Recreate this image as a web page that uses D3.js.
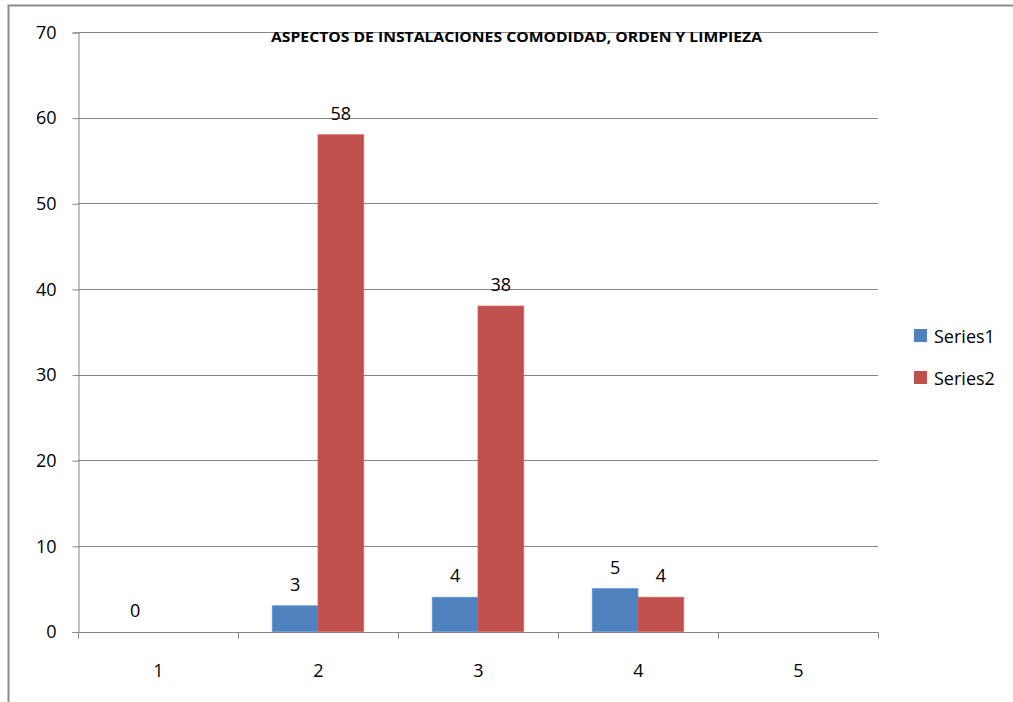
<!DOCTYPE html>
<html>
<head>
<meta charset="utf-8">
<script src="https://cdn.jsdelivr.net/npm/d3@7"></script>
<style>
  html, body { margin: 0; padding: 0; background: #fff; }
  svg { display: block; }
</style>
</head>
<body>
<svg id="chart" width="1013" height="702"></svg>
<script>
// Chart data
const categories = ["1", "2", "3", "4", "5"];
const seriesNames = ["Series1", "Series2"];
const series1 = [0, 3, 4, 5, null];
const series2 = [null, 58, 38, 4, null];
const yTicks = [0, 10, 20, 30, 40, 50, 60, 70];
const titleText = "ASPECTOS DE INSTALACIONES COMODIDAD, ORDEN Y LIMPIEZA";
const colors = ["#4F81BD", "#C0504D"];

const FONT = "'Open Sans', Lato, sans-serif";
const svg = d3.select("#chart");

// Outer chart frame (runs off the right/bottom edge)
svg.append("rect")
  .attr("x", 8.5).attr("y", 5.5)
  .attr("width", 1020).attr("height", 720)
  .attr("fill", "#fff")
  .attr("stroke", "#8c8c8c").attr("stroke-width", 2);

const plot = { left: 78, right: 878, top: 32, bottom: 631.5 };

const x = d3.scaleBand().domain(categories).range([plot.left, plot.right]).paddingInner(0).paddingOuter(0);
const y = d3.scaleLinear().domain([0, 70]).range([plot.bottom, plot.top]);

// Excel-style grouping: gap width 150%
const groupW = x.bandwidth() * 2 / 3.5;
const x1 = d3.scaleBand().domain(seriesNames).range([0, groupW]);

const g = svg.append("g");

// Horizontal gridlines
g.append("g").selectAll("line").data(yTicks.filter(t => t > 0)).join("line")
  .attr("x1", plot.left).attr("x2", plot.right)
  .attr("y1", d => Math.round(y(d)) + 0.5).attr("y2", d => Math.round(y(d)) + 0.5)
  .attr("stroke", "#868686").attr("stroke-width", 1);

// Y axis
const yAxis = d3.axisLeft(y).tickValues(yTicks).tickSize(6).tickPadding(16);
const yG = g.append("g").attr("transform", `translate(${plot.left + 0.5},0.5)`).call(yAxis);
yG.select(".domain").attr("stroke", "#868686");
yG.selectAll(".tick line").attr("stroke", "#868686");
yG.selectAll(".tick text").attr("font-family", FONT).attr("font-size", 18).attr("fill", "#000");

// X axis
const xEdges = categories.map(c => x(c)).concat([plot.right]);
const xAxisG = g.append("g").attr("transform", `translate(0.5,${Math.round(plot.bottom) + 0.5})`);
xAxisG.append("line").attr("x1", plot.left).attr("x2", plot.right).attr("stroke", "#868686");
xAxisG.selectAll(".tk").data(xEdges).join("line").attr("class", "tk")
  .attr("x1", d => d).attr("x2", d => d).attr("y1", 0).attr("y2", 6)
  .attr("stroke", "#868686");
xAxisG.selectAll(".lbl").data(categories).join("text").attr("class", "lbl")
  .attr("x", d => x(d) + x.bandwidth() / 2).attr("y", 44)
  .attr("text-anchor", "middle")
  .attr("font-family", FONT).attr("font-size", 18).attr("fill", "#000")
  .text(d => d);

// Bars
const allSeries = [series1, series2];
const barData = [];
allSeries.forEach((vals, si) => {
  vals.forEach((v, ci) => {
    if (v !== null) barData.push({ s: seriesNames[si], si, cat: categories[ci], v });
  });
});
const offset = (x.bandwidth() - groupW) / 2;

g.append("g").selectAll("rect").data(barData.filter(d => d.v > 0)).join("rect")
  .attr("x", d => x(d.cat) + offset + x1(d.s))
  .attr("width", x1.bandwidth())
  .attr("y", d => y(d.v))
  .attr("height", d => y(0) - y(d.v))
  .attr("fill", d => colors[d.si])
  .attr("stroke", d => d3.color(colors[d.si]).brighter(0.4))
  .attr("stroke-width", 0.8);

// Value labels
g.append("g").selectAll("text").data(barData).join("text")
  .attr("x", d => x(d.cat) + offset + x1(d.s) + x1.bandwidth() / 2)
  .attr("y", d => y(d.v) - 15)
  .attr("text-anchor", "middle")
  .attr("font-family", FONT).attr("font-size", 18).attr("fill", "#000")
  .text(d => d.v);

// Title
svg.append("text")
  .attr("x", 516.5).attr("y", 42)
  .attr("text-anchor", "middle")
  .attr("font-family", FONT).attr("font-weight", "bold").attr("font-size", 13.5)
  .attr("textLength", 491).attr("lengthAdjust", "spacingAndGlyphs")
  .attr("fill", "#000")
  .text(titleText);

// Legend
const legend = svg.append("g").attr("transform", "translate(914,329)");
seriesNames.forEach((name, i) => {
  const row = legend.append("g").attr("transform", `translate(0,${i * 42})`);
  row.append("rect").attr("width", 13).attr("height", 13).attr("fill", colors[i]);
  row.append("text").attr("x", 20).attr("y", 13.5)
    .attr("font-family", FONT).attr("font-size", 18).attr("fill", "#000")
    .text(name);
});
</script>
</body>
</html>
